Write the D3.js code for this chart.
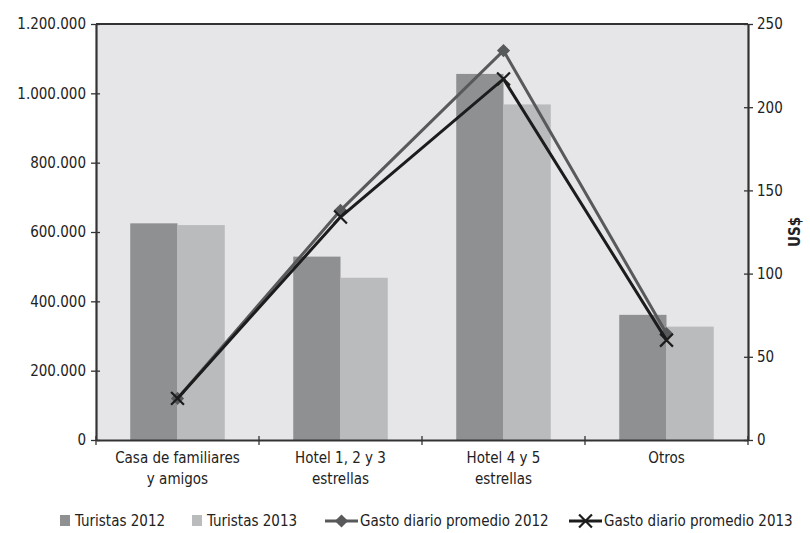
<!DOCTYPE html>
<html><head><meta charset="utf-8">
<script src="https://cdn.jsdelivr.net/npm/d3@7"></script>
<style>
body{margin:0;background:#fff;}
text{font-family:"Liberation Sans Narrow","DejaVu Sans Condensed","Arial Narrow",sans-serif;fill:#222;}
</style></head>
<body><svg id="c" width="810" height="533"></svg>
<script>
const categories = [["Casa de familiares","y amigos"],["Hotel 1, 2 y 3","estrellas"],["Hotel 4 y 5","estrellas"],["Otros"]];
const turistas2012 = [625000, 529000, 1056000, 361000];
const turistas2013 = [620000, 468000, 968000, 327000];
const gasto2012 = [25, 138, 234, 64];
const gasto2013 = [25, 134, 217, 60];
const leftTicks = [0,200000,400000,600000,800000,1000000,1200000];
const rightTicks = [0,50,100,150,200,250];
const legendLabels = ["Turistas 2012","Turistas 2013","Gasto diario promedio 2012","Gasto diario promedio 2013"];

const svg = d3.select("#c");
const L=96, R=748, T=24, B=440;
const idx = categories.map((d,i)=>i);
const x = d3.scaleBand().domain(idx).range([L,R]);
const yL = d3.scaleLinear().domain([0,1200000]).range([B,T]);
const yR = d3.scaleLinear().domain([0,250]).range([B,T]);
const fmt = v => v===0 ? "0" : d3.format(",")(v).replace(/,/g,".");
const colDark="#8f9092", colLight="#babbbd", col12="#58595b", col13="#1c1c1c";

svg.append("rect").attr("x",L).attr("y",T).attr("width",R-L).attr("height",B-T).attr("fill","#e6e6e8");

const bw = x.bandwidth()*0.29;
const g = svg.append("g");
g.selectAll(".b12").data(turistas2012).join("rect")
 .attr("x",(d,i)=>x(i)+x.bandwidth()/2-bw).attr("y",d=>yL(d)).attr("width",bw).attr("height",d=>B-yL(d)).attr("fill",colDark);
g.selectAll(".b13").data(turistas2013).join("rect")
 .attr("x",(d,i)=>x(i)+x.bandwidth()/2).attr("y",d=>yL(d)).attr("width",bw).attr("height",d=>B-yL(d)).attr("fill",colLight);

// frame top
svg.append("line").attr("x1",L).attr("x2",R).attr("y1",T).attr("y2",T).attr("stroke","#333").attr("stroke-width",2);

const axL = svg.append("g").attr("transform",`translate(${L},0)`)
 .call(d3.axisLeft(yL).tickValues(leftTicks).tickFormat(fmt).tickSizeInner(5).tickSizeOuter(0));
const axR = svg.append("g").attr("transform",`translate(${R},0)`)
 .call(d3.axisRight(yR).tickValues(rightTicks).tickSizeInner(5).tickSizeOuter(0));
const axB = svg.append("g").attr("transform",`translate(0,${B})`)
 .call(d3.axisBottom(x).tickValues([]).tickSizeOuter(0));
[axL,axR,axB].forEach(a=>{a.select(".domain").attr("stroke","#333").attr("stroke-width",2.2);
 a.selectAll(".tick line").attr("stroke","#333").attr("stroke-width",1.3);
 a.selectAll("text").style("font-size","15px").attr("fill","#222");});
axL.selectAll(".tick line").attr("x1",4);
axL.selectAll(".tick text").attr("x",-10);
axR.selectAll(".tick line").attr("x1",-4);
axR.selectAll(".tick text").attr("x",9);
// category separators
svg.append("g").selectAll("line").data([0,1,2,3,4]).join("line")
 .attr("x1",d=>L+d*x.bandwidth()).attr("x2",d=>L+d*x.bandwidth()).attr("y1",B-4).attr("y2",B+5)
 .attr("stroke","#333").attr("stroke-width",1.3);
// category labels
categories.forEach((lines,i)=>{
  const t = svg.append("text").attr("x",x(i)+x.bandwidth()/2).attr("y",B+23).attr("text-anchor","middle").style("font-size","15px");
  lines.forEach((s,j)=>t.append("tspan").attr("x",x(i)+x.bandwidth()/2).attr("dy",j?21:0).text(s));
});

svg.append("text").attr("transform","translate(800,232) rotate(-90)").attr("text-anchor","middle")
 .style("font-size","15px").style("font-weight","bold").text("US$");

const cx = i => x(i)+x.bandwidth()/2;
const line12 = d3.line().x((d,i)=>cx(i)).y(d=>yR(d));
svg.append("path").datum(gasto2012).attr("d",line12).attr("fill","none").attr("stroke",col12).attr("stroke-width",3);
const diamond = d3.symbol().type(d3.symbolDiamond2).size(110);
svg.selectAll(".dm").data(gasto2012).join("path").attr("d",diamond)
 .attr("transform",(d,i)=>`translate(${cx(i)},${yR(d)})`).attr("fill",col12);
svg.append("path").datum(gasto2013).attr("d",line12).attr("fill","none").attr("stroke",col13).attr("stroke-width",3);
const xs = d3.symbol().type(d3.symbolX).size(110);
svg.selectAll(".xm").data(gasto2013).join("path").attr("d",xs)
 .attr("transform",(d,i)=>`translate(${cx(i)},${yR(d)})`).attr("fill","none").attr("stroke",col13).attr("stroke-width",2.2);

// legend
const ly = 521;
const lg = svg.append("g");
lg.append("rect").attr("x",60).attr("y",ly-6).attr("width",10).attr("height",11).attr("fill",colDark);
lg.append("text").attr("x",75).attr("y",ly+5).style("font-size","15px").text(legendLabels[0]);
lg.append("rect").attr("x",192).attr("y",ly-6).attr("width",10).attr("height",11).attr("fill",colLight);
lg.append("text").attr("x",207).attr("y",ly+5).style("font-size","15px").text(legendLabels[1]);
lg.append("line").attr("x1",325).attr("x2",358).attr("y1",ly).attr("y2",ly).attr("stroke",col12).attr("stroke-width",3);
lg.append("path").attr("d",diamond).attr("transform",`translate(341.5,${ly})`).attr("fill",col12);
lg.append("text").attr("x",360).attr("y",ly+5).style("font-size","15px").text(legendLabels[2]);
lg.append("line").attr("x1",569).attr("x2",602).attr("y1",ly).attr("y2",ly).attr("stroke",col13).attr("stroke-width",3);
lg.append("path").attr("d",xs).attr("transform",`translate(585.5,${ly})`).attr("fill","none").attr("stroke",col13).attr("stroke-width",2.2);
lg.append("text").attr("x",604).attr("y",ly+5).style("font-size","15px").text(legendLabels[3]);
</script></body></html>
